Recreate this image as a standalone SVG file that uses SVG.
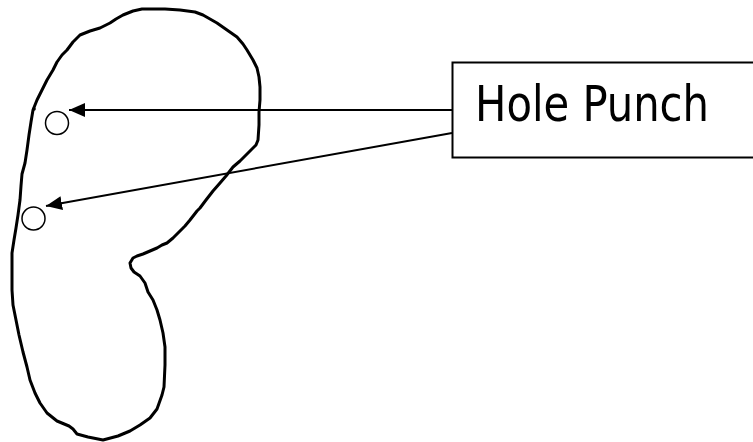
<svg xmlns="http://www.w3.org/2000/svg" width="753" height="442" viewBox="0 0 753 442">
  <style>
    .outline { fill: none; stroke: #000; stroke-width: 3; stroke-linejoin: round; stroke-linecap: round; }
    .hole { fill: #fff; stroke: #000; stroke-width: 1.5; }
    .box { fill: #fff; stroke: #000; stroke-width: 2; }
    .label { font-family: "DejaVu Sans Condensed", "DejaVu Sans", sans-serif; font-stretch: condensed; font-size: 50px; fill: #000; }
    .conn { fill: none; stroke: #000; stroke-width: 2; }
  </style>
  <defs>
    <marker id="arrow" markerUnits="userSpaceOnUse" markerWidth="18" markerHeight="14" refX="16" refY="7" orient="auto">
      <path d="M0,0 L16,7 L0,14 Z" fill="#000"/>
    </marker>
  </defs>

  <rect width="753" height="442" fill="#fff"/>

  <!-- hand-drawn kidney-shaped outline -->
  <g id="outline">
    <path class="outline" d="M150,9 L165,9 L180,10 L195,12 L203,15 L210,19 L217,23 L227,30 L237,37 L243,44 L247,50 L253,60 L257,68 L259,77 L260,87 L260,100 L259,112 L259,125 L258,140 L256,145 L248,153 L240,161 L233,167 L226,176 L220,183 L213,191 L206,200 L200,208 L197,211 L190,220 L185,226 L180,231 L173,238 L167,243 L162,245 L157,248 L150,251 L143,254 L137,256 L133,258 L130,263 L131,268 L134,272 L140,276 L145,283 L148,292 L153,300 L157,310 L160,320 L163,333 L165,347 L165,365 L164,387 L162,395 L157,409 L150,418 L140,425 L130,431 L118,436 L103,440 L88,437 L77,434 L73,429 L69,426 L57,421 L47,413 L40,403 L35,393 L30,380 L27,367 L23,352 L19,335 L16,320 L13,305 L12,290 L12,270 L12,253 L14,240 L16,228 L18,215 L20,200 L21,186 L22,174 L25,163 L27,150 L29,135 L31,122 L33,110 L37,100 L42,90 L47,80 L53,70 L57,62 L62,55 L67,50 L73,42 L80,35 L90,31 L100,28 L110,23 L116,19 L123,15 L133,11 L142,9 Z"/>
    <circle cx="34" cy="109" r="1.8" fill="#000"/>
  </g>

  <!-- punched holes -->
  <g id="hole-upper">
    <circle class="hole" cx="57" cy="123" r="11.5"/>
  </g>
  <g id="hole-lower">
    <circle class="hole" cx="33.5" cy="218.5" r="11.5"/>
  </g>

  <!-- label box -->
  <g id="hole-punch">
    <rect class="box" x="452.5" y="62.5" width="320" height="95"/>
    <text class="label" x="475" y="120.5" textLength="234" lengthAdjust="spacingAndGlyphs">Hole Punch</text>
  </g>

  <!-- connectors from label to holes -->
  <g id="connectors">
    <line class="conn" x1="452" y1="110" x2="69" y2="110" marker-end="url(#arrow)"/>
    <line class="conn" x1="452" y1="133" x2="46" y2="206" marker-end="url(#arrow)"/>
  </g>
</svg>
